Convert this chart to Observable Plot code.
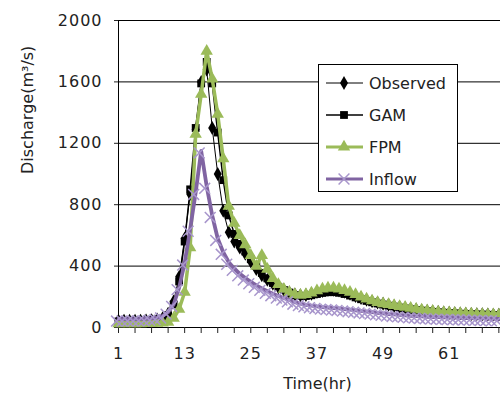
<!DOCTYPE html>
<html><head><meta charset="utf-8">
<script src="https://cdn.jsdelivr.net/npm/d3@7"></script>
<script src="https://cdn.jsdelivr.net/npm/@observablehq/plot@0.6"></script>
<style>
body{margin:0;background:#fff;}
#wrap{position:relative;width:500px;height:402px;overflow:hidden;font-family:"DejaVu Sans",sans-serif;}
#wrap svg [aria-label="y-axis tick label"] text,#wrap svg [aria-label="x-axis tick label"] text{letter-spacing:1px;}
#legend{position:absolute;left:318px;top:64px;}
</style></head><body><div id="wrap"></div>
<script>
const hours = d3.range(1, 71);
const seriesNames = ["Observed", "GAM", "FPM", "Inflow"];
const observed = [45,45,44,44,45,46,48,52,60,
  90,170,330,580,870,1290,1600,1680,1300,1000,760,620,560,520,480,430,380,340,310,285,262,
  244,228,215,210,212,220,230,238,244,245,240,232,220,205,192,180,170,162,155,148,
  140,134,128,122,117,112,108,104,101,98,96,94,92,90,88,87,86,85,84,83];
const gam = [40,40,40,41,42,44,47,50,58,
  80,150,300,560,900,1300,1590,1730,1590,1270,960,730,610,545,495,445,400,355,320,290,265,
  245,228,212,205,205,210,218,225,230,230,226,218,208,196,184,173,164,156,149,142,
  136,130,124,119,114,110,106,102,99,96,94,92,90,88,86,85,84,83,82,81];
const fpm = [25,25,25,25,25,26,27,28,30,
  35,60,120,230,520,1260,1520,1800,1620,1390,1100,790,680,600,540,470,400,470,380,320,280,
  250,230,215,210,215,225,240,252,258,258,252,242,230,215,200,186,174,164,156,150,
  144,138,132,126,120,115,110,106,102,99,96,94,92,90,88,86,85,84,83,82];
const inflow = [55,55,55,55,56,57,60,65,75,
  100,150,260,420,640,880,1150,920,730,580,490,425,385,350,322,298,275,255,236,220,205,
  192,180,165,156,148,142,137,133,130,127,124,120,116,112,108,104,100,96,92,88,
  85,82,79,76,74,72,70,68,67,66,65,64,63,62,61,60,59,58,57,56];
const yTicks = [0, 400, 800, 1200, 1600, 2000];
const xLabelTicks = [1, 13, 25, 37, 49, 61];
const xMinorTicks = d3.range(1, 71, 3);

const styles = {
  Observed: {line: "#000", lw: 1, sym: "diamond", r: 4.2, fill: "#000", stroke: "none", sw: 0},
  GAM: {line: "#000", lw: 1.5, sym: "square", r: 4.4, fill: "#000", stroke: "none", sw: 0},
  FPM: {line: "#9bbb59", lw: 3.5, sym: "triangle", r: 4.6, fill: "#9bbb59", stroke: "none", sw: 0},
  Inflow: {line: "#8064a2", lw: 3.8, sym: "times", r: 5, fill: "none", stroke: "#a896cc", sw: 1.5}
};
const values = {Observed: observed, GAM: gam, FPM: fpm, Inflow: inflow};
const rows = name => values[name].map((v, i) => ({hour: hours[i], value: v, series: name}));

const seriesMarks = seriesNames.flatMap(name => {
  const s = styles[name];
  const data = rows(name);
  return [
    Plot.line(data, {x: "hour", y: "value", stroke: s.line, strokeWidth: s.lw}),
    Plot.dot(data, {x: "hour", y: "value", symbol: s.sym, r: s.r, fill: s.fill, stroke: s.stroke, strokeWidth: s.sw,
      dx: name === "Inflow" ? -2 : 0, dy: name === "Inflow" ? 2 : 0})
  ];
});

const chart = Plot.plot({
  width: 500, height: 402,
  marginLeft: 118, marginRight: 0, marginTop: 20, marginBottom: 75,
  style: {fontFamily: "DejaVu Sans, sans-serif", fontSize: "16px", color: "#222", background: "white", overflow: "visible"},
  x: {domain: [1, 70.3]},
  y: {domain: [0, 2000]},
  marks: [
    Plot.gridY(yTicks, {stroke: "#000", strokeOpacity: 1, strokeWidth: 1}),
    Plot.ruleX([1], {stroke: "#000"}),
    Plot.ruleY([0], {stroke: "#000"}),
    Plot.axisY(yTicks, {tickSize: 4, tickPadding: 12, label: null, tickFormat: d => String(d)}),
    Plot.axisX(xMinorTicks, {tickSize: 6, label: null, tickFormat: () => ""}),
    Plot.axisX(xLabelTicks, {tickSize: 0, tickPadding: 20, label: null, tickFormat: d => String(d)}),
    ...seriesMarks,
    Plot.text(["Discharge(m³/s)"], {frameAnchor: "left", dx: -91, rotate: -90, fontSize: 16}),
    Plot.text(["Time(hr)"], {frameAnchor: "bottom", dx: 8, dy: 61, fontSize: 16})
  ]
});
document.getElementById("wrap").appendChild(chart);

// legend
const lg = d3.select("#wrap").append("svg").attr("id", "legend")
  .attr("width", 141).attr("height", 129)
  .style("font-family", "DejaVu Sans, sans-serif").style("font-size", "16px");
lg.append("rect").attr("x", 0.5).attr("y", 0.5).attr("width", 139).attr("height", 127)
  .attr("fill", "#fff").attr("stroke", "#000");
const symMap = {diamond: d3.symbolDiamond, square: d3.symbolSquare, triangle: d3.symbolTriangle, times: d3.symbolTimes};
seriesNames.forEach((name, i) => {
  const s = styles[name];
  const y = 19 + i * 32;
  const g = lg.append("g").attr("transform", `translate(0,${y})`);
  g.append("line").attr("x1", 8).attr("x2", 45).attr("y1", 0).attr("y2", 0)
    .attr("stroke", s.line).attr("stroke-width", Math.min(s.lw, 3));
  g.append("path").attr("transform", "translate(26,0)")
    .attr("d", d3.symbol(symMap[s.sym], s.r * s.r * Math.PI)())
    .attr("fill", s.fill).attr("stroke", s.stroke).attr("stroke-width", s.sw);
  g.append("text").attr("x", 51).attr("y", 0).attr("dy", "0.35em").attr("fill", "#222").text(name);
});
</script></body></html>
